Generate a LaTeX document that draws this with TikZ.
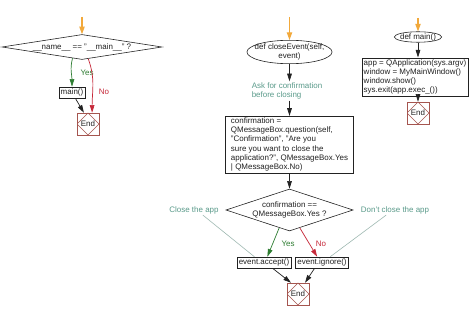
\documentclass[tikz,border=0pt]{standalone}
\usepackage{fontspec}
\setmainfont{Liberation Sans}[Ligatures=ResetAll]
\usetikzlibrary{arrows.meta,shapes.geometric}
\definecolor{ink}{HTML}{222222}
\definecolor{startor}{HTML}{F2A93B}
\definecolor{yesgreen}{HTML}{2E7D32}
\definecolor{nored}{HTML}{C62839}
\definecolor{endred}{HTML}{A5554F}
\definecolor{notetxt}{HTML}{5B9B8B}
\definecolor{noteline}{HTML}{9DB8B0}
\begin{document}
\begin{tikzpicture}[x=.03cm,y=-.03cm,every node/.style={font=\fontsize{6.8}{7.8}\selectfont,text=ink},box/.style={draw=ink,line width=.5pt,inner sep=1.5pt,minimum height=.33cm},decide/.style={draw=ink,line width=.5pt,diamond,inner sep=0pt,align=center},startev/.style={draw=ink,line width=.5pt,ellipse,inner ysep=0pt,align=center},note/.style={text=notetxt,align=left,inner sep=1pt},endbox/.style={draw=endred,line width=.5pt,minimum size=.66cm,inner sep=0pt,path picture={\draw[endred,line width=.5pt] (path picture bounding box.north)--(path picture bounding box.east)--(path picture bounding box.south)--(path picture bounding box.west)--cycle;}},startarr/.style={startor,line width=1pt,-{Triangle[length=2.3mm,width=1.6mm]}},flow/.style={ink,line width=.6pt,-{Triangle[length=2.3mm,width=1.4mm]}},yesarr/.style={yesgreen,line width=.6pt,-{Triangle[length=2.3mm,width=1.4mm]}},noarr/.style={nored,line width=.6pt,-{Triangle[length=2.3mm,width=1.4mm]}},noteln/.style={noteline,line width=.5pt}]
\fill[white] (0,0) rectangle (474,315);\useasboundingbox (0,0) rectangle (474,315);
% __main__ check
\coordinate (s1) at (82,17);
\node[decide,aspect=6.4,minimum width=4.8cm,minimum height=.75cm] (cond1) at (82,47){\_\_name\_\_ == "\_\_main\_\_" ?};
\node[box] (mainc) at (72,92.5){main()};\node[endbox] (end1) at (88,124){End};
\draw[startarr] (s1)--(cond1);
\draw[yesarr] (cond1.-130) to[out=-105,in=90] (mainc);\node[text=yesgreen] (y1) at (87,73){Yes};
\draw[noarr] (cond1.-62) to[out=-70,in=90] (end1.70);\node[text=nored] (n1) at (104,92){No};
\draw[flow] (mainc.-60)--(end1.110);
% closeEvent
\coordinate (s2) at (289.5,17);
\node[startev,inner xsep=-4pt] (closeEv) at (289.5,52){def closeEvent(self,\\event)};
\node[note] (askc) at (287,91){Ask for confirmation\\before closing};
\node[box,align=left,minimum width=3.84cm,minimum height=1.65cm] (confbox) at (289.5,144.5){confirmation =\\QMessageBox.question(self,\\"Confirmation", "Are you\\sure you want to close the\\application?", QMessageBox.Yes\\| QMessageBox.No)};
\node[decide,aspect=3,minimum width=3.81cm,minimum height=1.26cm] (cond2) at (289.5,210){confirmation ==\\QMessageBox.Yes ?};
\node[box] (accept) at (264,262.5){event.accept()};\node[box] (ignore) at (322,262.5){event.ignore()};
\node[endbox] (end2) at (298,294){End};
\node[note] (closeapp) at (194,210){Close the app};\node[note] (dontc) at (395,210){Don't close the app};
\draw[startarr] (s2)--(closeEv);
\draw[flow] (closeEv.south)--(closeEv.south|-askc.north);\draw[flow] (askc.south-|confbox.north)--(confbox.north);
\draw[flow] (confbox)--(cond2);
\draw[yesarr] (cond2.-120)--(accept.60);\node[text=yesgreen] (y2) at (288,244){Yes};
\draw[noarr] (cond2.-60)--(ignore.130);\node[text=nored] (n2) at (321,244){No};
\draw[flow] (accept.-34)--(end2.122);\draw[flow] (ignore.-142)--(end2.58);
\draw[noteln] (closeapp.-30)--(accept.149);\draw[noteln] (dontc.-150)--(ignore.35);
% main()
\coordinate (s3) at (418,18);
\node[startev,inner xsep=-1pt] (mainDef) at (418,37){def main()};
\node[box,align=left] (mainbox) at (415,77){app = QApplication(sys.argv)\\window = MyMainWindow()\\window.show()\\sys.exit(app.exec\_())};
\node[endbox] (end3) at (418,113){End};
\draw[startarr] (s3)--(mainDef);
\draw[flow] (mainDef.south)--(mainDef.south|-mainbox.north);\draw[flow] (mainbox.south-|end3.north)--(end3.north);
\end{tikzpicture}
\end{document}
